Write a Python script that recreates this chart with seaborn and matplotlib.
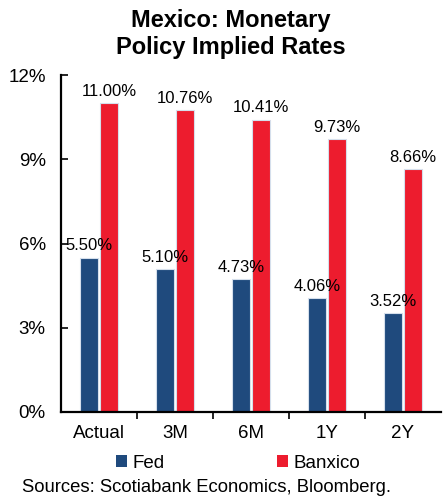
import matplotlib
matplotlib.use("Agg")
import matplotlib.pyplot as plt
import seaborn as sns
import pandas as pd
from matplotlib.patches import Patch
from matplotlib.ticker import FixedLocator, FuncFormatter

categories = ["Actual", "3M", "6M", "1Y", "2Y"]
fed = [5.50, 5.10, 4.73, 4.06, 3.52]
banxico = [11.00, 10.76, 10.41, 9.73, 8.66]
series_names = ["Fed", "Banxico"]
y_ticks = [0, 3, 6, 9, 12]

sns.set_style("white")
plt.rcParams["font.family"] = ["Liberation Sans", "DejaVu Sans"]
plt.rcParams["text.color"] = "black"
plt.rcParams["xtick.color"] = "black"
plt.rcParams["ytick.color"] = "black"

df = pd.DataFrame({
    "cat": categories * 2,
    "val": fed + banxico,
    "series": [series_names[0]] * len(fed) + [series_names[1]] * len(banxico),
})
colors = {"Fed": "#1F4A7D", "Banxico": "#ED1C2E"}

fig = plt.figure(figsize=(4.45, 5.0), dpi=100)
ax = fig.add_axes([0.137, 0.176, 0.854, 0.674])
sns.barplot(data=df, x="cat", y="val", hue="series", palette=colors,
            width=0.53, gap=0.1, ax=ax, legend=False, saturation=1,
            edgecolor="#d5dfec", linewidth=0.8)

ax.set_ylim(0, 12)
ax.set_xlim(-0.5, len(categories) - 0.5)
ax.set_yticks(y_ticks)
ax.yaxis.set_major_formatter(FuncFormatter(lambda v, p: f"{v:.0f}%"))
ax.set_xlabel("")
ax.set_ylabel("")
for s in ["top", "right"]:
    ax.spines[s].set_visible(False)
for s in ["left", "bottom"]:
    ax.spines[s].set_color("black")
    ax.spines[s].set_linewidth(1.6)
ax.tick_params(axis="y", direction="in", length=5, width=1.2, labelsize=13.5, pad=11, left=True,
               labelcolor="black")
ax.tick_params(axis="x", which="major", length=0, labelsize=13.5, pad=9, labelcolor="black")
ax.xaxis.set_minor_locator(FixedLocator([i + 0.5 for i in range(len(categories) - 1)]))
ax.tick_params(axis="x", which="minor", direction="out", length=5, width=1.2, bottom=True)

for cont in ax.containers:
    ax.bar_label(cont, fmt="%.2f%%", padding=3, fontsize=12, color="black")

fig.text(0.518, 0.982, "Mexico: Monetary\nPolicy Implied Rates", ha="center", va="top",
         fontsize=17, fontweight="bold", linespacing=1.22, color="black")

handles = [Patch(facecolor=colors[n], edgecolor="none") for n in series_names]
fig.legend(handles, series_names, loc="center", bbox_to_anchor=(0.535, 0.073), ncol=2,
           frameon=False, fontsize=13.5, handlelength=0.6, handleheight=0.6,
           handletextpad=0.3, columnspacing=6.0, labelcolor="black")

fig.text(0.05, 0.025, "Sources: Scotiabank Economics, Bloomberg.", ha="left", va="center",
         fontsize=13.3, color="black")

fig.savefig("out.png", dpi=100)
